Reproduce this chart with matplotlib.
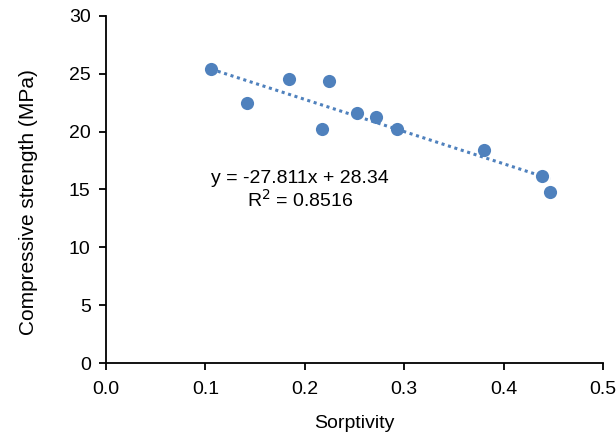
import matplotlib
matplotlib.use("Agg")
import matplotlib.pyplot as plt
import numpy as np

# sorptivity vs compressive strength
sorptivity = [0.106, 0.142, 0.184, 0.217, 0.224, 0.253, 0.272, 0.293, 0.380, 0.439, 0.447]
strength = [25.4, 22.5, 24.5, 20.2, 24.4, 21.6, 21.3, 20.2, 18.4, 16.2, 14.75]

# linear trendline as reported
slope, intercept = -27.811, 28.34
r2 = 0.8516

xticks = [0.0, 0.1, 0.2, 0.3, 0.4, 0.5]
yticks = [0, 5, 10, 15, 20, 25, 30]

blue = '#4f81bd'

plt.rcParams['font.family'] = ['Liberation Sans', 'DejaVu Sans']

fig = plt.figure(figsize=(6.16, 4.40), dpi=100, facecolor='w')
ax = fig.add_axes([0.172, 0.175, 0.807, 0.789])

xs = np.array([min(sorptivity), max(sorptivity)])
ax.plot(xs, slope * xs + intercept, linestyle=(0, (1, 1.2)), color=blue, linewidth=2.2, zorder=2)
ax.scatter(sorptivity, strength, s=90, color=blue, zorder=3, linewidths=0)

ax.text(0.195, 14.95, 'y = -27.811x + 28.34\nR$^{2}$ = 0.8516', ha='center', va='center',
        fontsize=14, linespacing=1.1)

ax.set_xlim(0, 0.5)
ax.set_ylim(0, 30)
ax.set_xticks(xticks)
ax.set_xticklabels(['%.1f' % t for t in xticks])
ax.set_yticks(yticks)
for s in ['top', 'right']:
    ax.spines[s].set_visible(False)
for s in ['left', 'bottom']:
    ax.spines[s].set_linewidth(1.3)
    ax.spines[s].set_color('black')
ax.tick_params(direction='out', length=5, width=1.3, labelsize=14, colors='black')
ax.tick_params(axis='x', pad=8)
ax.tick_params(axis='y', pad=6)
ax.set_xlabel('Sorptivity', fontsize=14, labelpad=12)
ax.set_ylabel('Compressive strength (MPa)', fontsize=15, labelpad=22)
ax.yaxis.label.set_y(0.464)

plt.savefig('out.png', dpi=100)
